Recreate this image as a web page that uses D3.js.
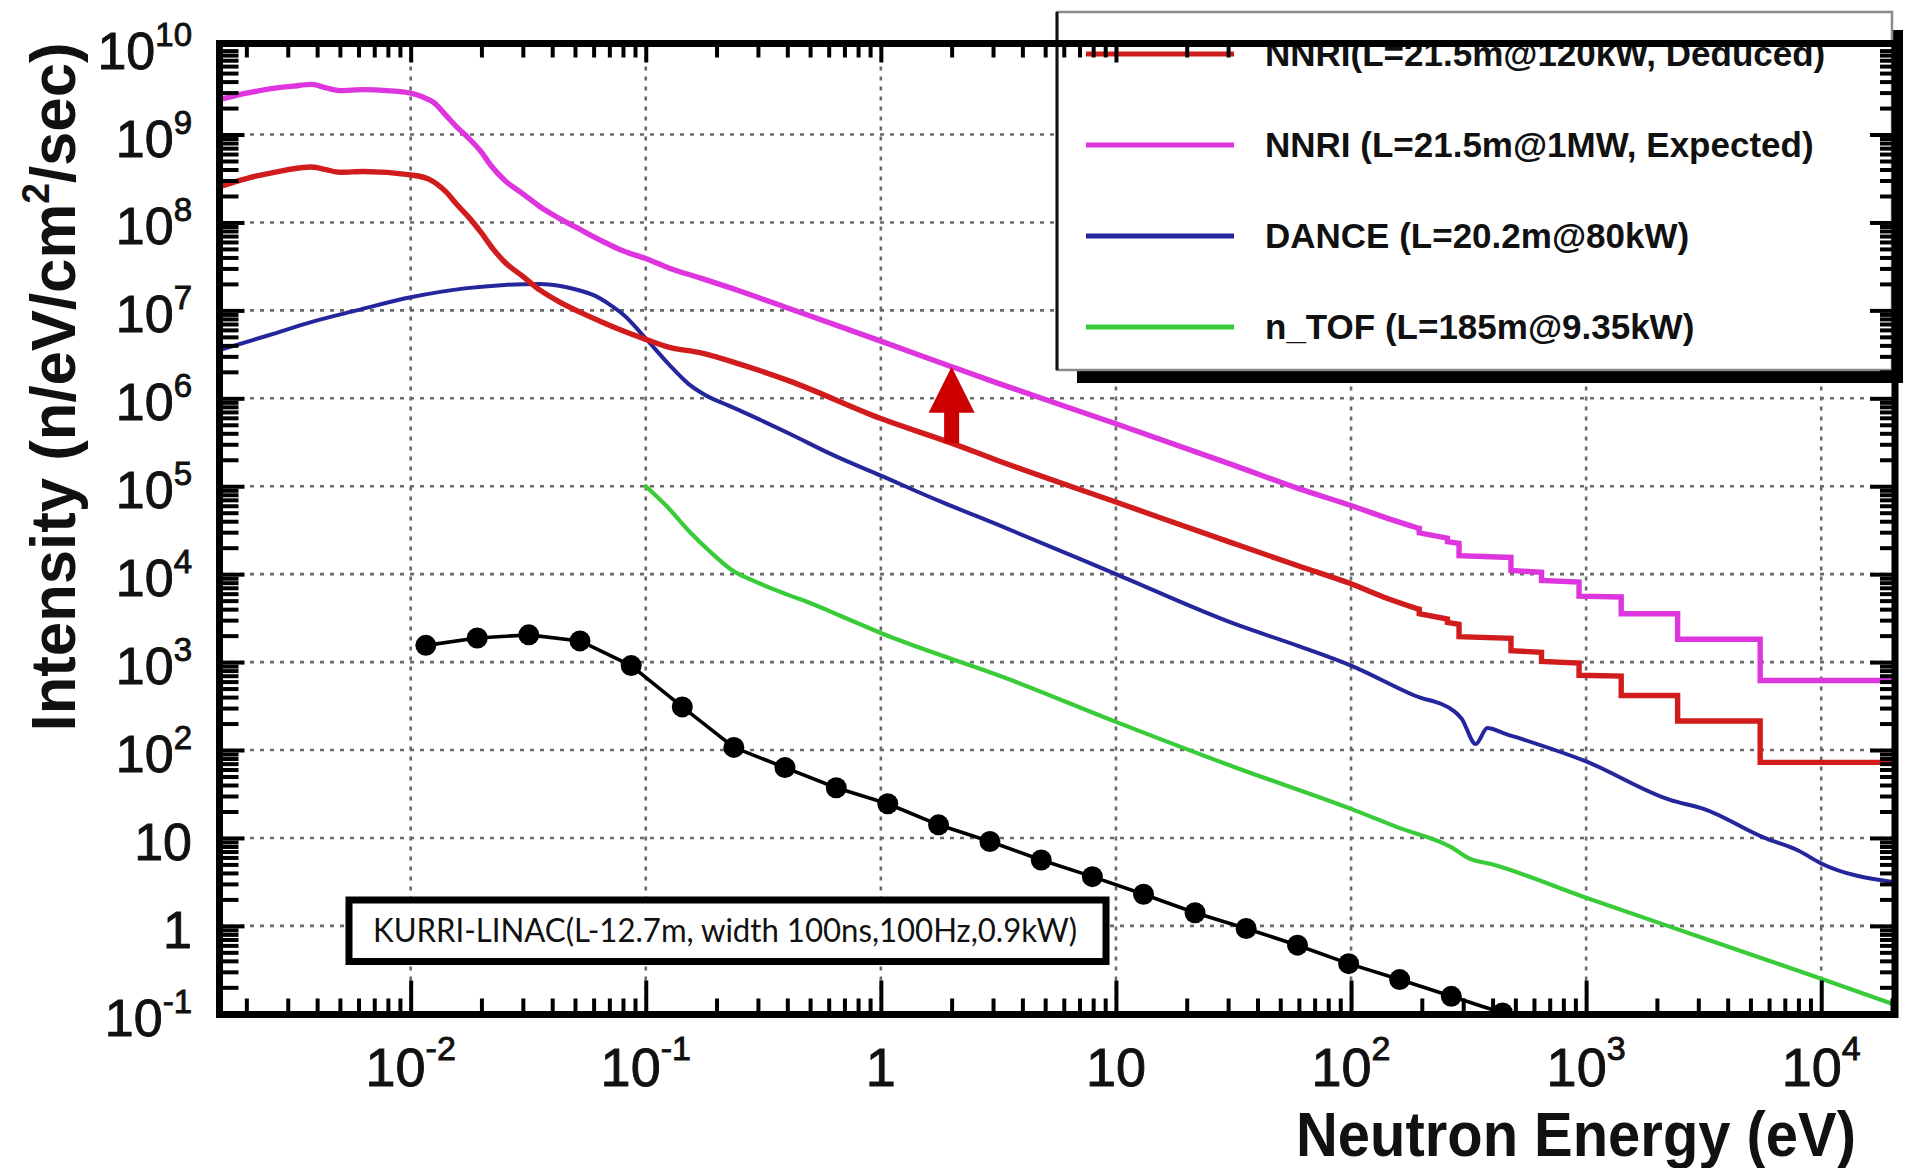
<!DOCTYPE html>
<html><head><meta charset="utf-8">
<script src="https://cdn.jsdelivr.net/npm/d3@7"></script>
<style>html,body{margin:0;padding:0;background:#fff;}svg{display:block}</style>
</head><body>
<svg id="chart" width="1908" height="1168"></svg>
<script>
// ---------------- DATA ----------------
const expectedE = [0.00155,0.0020,0.00251,0.00316,0.0038,0.00437,0.00501,0.00631,0.00794,0.0100,0.0112,0.0126,0.0141,0.0158,0.0170,0.0200,0.0219,0.0251,0.0302,0.0355,0.0427,0.0525,0.0661,0.0794,0.100,0.126,0.170,0.251,0.407,1.0,2.0,3.16,10,31.6,60.3,100,141,195,195,257,257,288,288,479,479,646,646,933,933,1410,1410,2450,2450,5500,5500,20200];
const expectedI = [2.51e9,2.95e9,3.31e9,3.55e9,3.72e9,3.39e9,3.16e9,3.24e9,3.16e9,2.95e9,2.69e9,2.29e9,1.66e9,1.20e9,1.0e9,6.31e8,4.47e8,3.02e8,2.09e8,1.51e8,1.12e8,8.32e7,6.03e7,4.79e7,3.89e7,3.02e7,2.34e7,1.66e7,1.05e7,4.47e6,2.29e6,1.48e6,5.13e5,1.74e5,9.33e4,6.03e4,4.37e4,3.31e4,2.95e4,2.57e4,2.34e4,2.24e4,1.62e4,1.55e4,1.10e4,1.05e4,8.51e3,8.13e3,5.62e3,5.50e3,3.55e3,3.55e3,1.82e3,1.82e3,617,617];

const deducedE = [0.00155,0.0020,0.00263,0.0038,0.00437,0.00501,0.00631,0.0100,0.0120,0.0141,0.0158,0.0178,0.0200,0.0224,0.0251,0.0302,0.0355,0.0427,0.0525,0.0661,0.0794,0.100,0.126,0.170,0.251,0.407,1.0,2.0,3.16,10,31.6,60.3,100,141,195,195,257,257,288,288,479,479,646,646,933,933,1410,1410,2450,2450,5500,5500,20200];
const deducedI = [2.57e8,3.16e8,3.72e8,4.27e8,3.98e8,3.72e8,3.80e8,3.47e8,3.09e8,2.24e8,1.58e8,1.12e8,7.59e7,5.01e7,3.55e7,2.40e7,1.70e7,1.26e7,9.55e6,7.24e6,5.89e6,4.68e6,3.80e6,3.31e6,2.45e6,1.58e6,5.89e5,3.09e5,1.95e5,6.61e4,2.24e4,1.23e4,7.76e3,5.37e3,3.98e3,3.55e3,3.09e3,2.82e3,2.69e3,1.95e3,1.86e3,1.35e3,1.29e3,1.02e3,977,708,692,417,417,214,214,72.4,72.4];

const danceE = [0.00155,0.00251,0.0038,0.00589,0.0100,0.0170,0.0251,0.0355,0.0427,0.0501,0.0603,0.0708,0.0813,0.100,0.126,0.151,0.178,0.224,0.282,0.407,0.631,1.0,1.78,3.16,10,31.6,60.3,100,186,275,295,339,380,447,1000,2290,3160,5750,7940,10000,20200];
const danceI = [3.55e6,5.25e6,7.41e6,1.0e7,1.41e7,1.78e7,1.95e7,2.0e7,1.91e7,1.74e7,1.48e7,1.15e7,8.71e6,4.79e6,2.40e6,1.48e6,1.10e6,8.32e5,6.31e5,3.98e5,2.24e5,1.32e5,6.76e4,3.63e4,1.0e4,2.75e3,1.51e3,912,417,275,229,117,178,155,74.1,26.9,21.4,10.0,7.24,5.13,3.16];

const ntofE = [0.100,0.122,0.154,0.187,0.234,0.296,0.398,0.513,0.668,1.0,3.63,10,31.6,100,158,269,316,398,1000,3160,10000,20200];
const ntofI = [1.0e5,6.03e4,3.02e4,1.82e4,1.10e4,8.13e3,5.89e3,4.57e3,3.39e3,2.14e3,617,209,64.6,21.4,13.2,7.76,5.89,5.01,2.09,0.724,0.251,0.129];

const kurriE = [0.0116,0.0192,0.0318,0.0525,0.0867,0.143,0.237,0.391,0.646,1.07,1.76,2.91,4.81,7.94,13.1,21.7,35.8,59.2,97.7,161,267,441];
const kurriI = [1550,1880,2040,1740,912,309,107,63.1,37.2,24.5,14.1,9.12,5.62,3.63,2.29,1.41,0.933,0.603,0.372,0.245,0.158,0.102];

const arrowE = 2.0, arrowFrom = 3.09e5, arrowTo = 2.29e6;

const xTickValues = [1e-2,1e-1,1,10,1e2,1e3,1e4];
const xTickExp    = ["-2","-1",null,null,"2","3","4"];
const xTickBase   = ["10","10","1","10","10","10","10"];
const yTickExps   = [-1,0,1,2,3,4,5,6,7,8,9,10];

const legendLabels = ["NNRI(L=21.5m@120kW, Deduced)","NNRI (L=21.5m@1MW, Expected)","DANCE (L=20.2m@80kW)","n_TOF (L=185m@9.35kW)"];
const legendColors = ["#d01c1c","#de36de","#26269c","#3acb3a"];
const boxText = "KURRI-LINAC(L-12.7m, width 100ns,100Hz,0.9kW)";
const xTitle = "Neutron Energy (eV)";

// ---------------- LAYOUT ----------------
const svg = d3.select("#chart");
const P = {left:220, right:1893, top:46.6, bottom:1013.8};
const F = {x0:219.5, y0:43.5, x1:1895, y1:1014.5};
const x = d3.scaleLog().domain([1.545e-3, 2.02e4]).range([P.left, P.right]);
const y = d3.scaleLog().domain([0.1, 1e10]).range([P.bottom, P.top]);
const sansFont = "'Liberation Sans', Arial, Helvetica, sans-serif";

svg.append("rect").attr("width",1908).attr("height",1168).attr("fill","#fff");

svg.append("defs").append("clipPath").attr("id","clip")
  .append("rect").attr("x",P.left).attr("y",P.top).attr("width",P.right-P.left).attr("height",P.bottom-P.top);

// grid
const grid = svg.append("g").attr("stroke","#6a6a6a").attr("stroke-width",2.6).attr("stroke-dasharray","4 6");
xTickValues.forEach(v=>{
  grid.append("line").attr("x1",x(v)).attr("x2",x(v)).attr("y1",P.top).attr("y2",P.bottom);
});
d3.range(0,10).forEach(k=>{
  grid.append("line").attr("y1",y(Math.pow(10,k))).attr("y2",y(Math.pow(10,k))).attr("x1",P.left).attr("x2",P.right);
});

// KURRI annotation box
svg.append("rect").attr("x",349).attr("y",900).attr("width",757).attr("height",61.5)
  .attr("fill","#fff").attr("stroke","#000").attr("stroke-width",7);
svg.append("text").attr("x",373).attr("y",942).attr("font-family","Lato, 'Open Sans', sans-serif")
  .attr("font-size",33).attr("textLength",704).attr("lengthAdjust","spacingAndGlyphs").attr("fill","#111").text(boxText);

// curves
const zip = (a,b)=>a.map((v,i)=>[v,b[i]]);
const smooth = d3.line().x(d=>x(d[0])).y(d=>y(d[1])).curve(d3.curveMonotoneX);
const straight = d3.line().x(d=>x(d[0])).y(d=>y(d[1]));
const curves = svg.append("g").attr("clip-path","url(#clip)").attr("fill","none")
  .attr("stroke-linejoin","round").attr("stroke-linecap","round");
function drawSeries(E, I, color, width){
  const pts = zip(E, I);
  let s = pts.length - 1;
  for(let i=0;i<pts.length-1;i++){ if(pts[i][0]===pts[i+1][0]){ s=i; break; } }
  curves.append("path").attr("d",smooth(pts.slice(0,s+1))).attr("stroke",color).attr("stroke-width",width);
  if(s < pts.length-1)
    curves.append("path").attr("d",straight(pts.slice(s))).attr("stroke",color).attr("stroke-width",width).attr("stroke-linejoin","miter").attr("stroke-linecap","square");
}
drawSeries(ntofE, ntofI, legendColors[3], 4.2);
drawSeries(danceE, danceI, legendColors[2], 4.0);
drawSeries(deducedE, deducedI, legendColors[0], 5.4);
drawSeries(expectedE, expectedI, legendColors[1], 5.4);
curves.append("path").attr("d",straight(zip(kurriE,kurriI))).attr("stroke","#000").attr("stroke-width",3.6);
curves.selectAll("circle").data(zip(kurriE,kurriI)).enter().append("circle")
  .attr("cx",d=>x(d[0])).attr("cy",d=>y(d[1])).attr("r",10.5).attr("fill","#000");

// arrow (from deduced curve up to expected curve)
{
  const ax = x(arrowE), yb = y(arrowFrom), yt = y(arrowTo);
  const headL = 46, headW = 23, shaftW = 7.5;
  const p = d3.path();
  p.moveTo(ax, yt); p.lineTo(ax+headW, yt+headL); p.lineTo(ax+shaftW, yt+headL);
  p.lineTo(ax+shaftW, yb); p.lineTo(ax-shaftW, yb); p.lineTo(ax-shaftW, yt+headL);
  p.lineTo(ax-headW, yt+headL); p.closePath();
  svg.append("path").attr("d",p.toString()).attr("fill","#cc0000");
}

// legend
const lg = svg.append("g");
lg.append("rect").attr("x",1077).attr("y",370).attr("width",826).attr("height",13).attr("fill","#000");
lg.append("rect").attr("x",1892).attr("y",30).attr("width",11).attr("height",353).attr("fill","#000");
lg.append("rect").attr("x",1057).attr("y",12).attr("width",835).attr("height",358).attr("fill","#fff")
  .attr("stroke","#8a8a8a").attr("stroke-width",2.5);
lg.append("line").attr("x1",1057).attr("x2",1057).attr("y1",12).attr("y2",370).attr("stroke","#111").attr("stroke-width",3);
const rowsY = [54,145,236,327];
legendLabels.forEach((t,i)=>{
  lg.append("line").attr("x1",1086).attr("x2",1234).attr("y1",rowsY[i]).attr("y2",rowsY[i])
    .attr("stroke",legendColors[i]).attr("stroke-width",5);
  lg.append("text").attr("x",1265).attr("y",rowsY[i]+12).attr("font-family",sansFont).attr("font-weight","bold")
    .attr("font-size",35).attr("fill","#111").text(t);
});

// frame
svg.append("rect").attr("x",F.x0).attr("y",F.y0).attr("width",F.x1-F.x0).attr("height",F.y1-F.y0)
  .attr("fill","none").attr("stroke","#000").attr("stroke-width",7);

// ticks
const majorX = xTickValues;
const minorX = [];
for(let k=-3;k<=4;k++) for(let m=2;m<=9;m++){const v=m*Math.pow(10,k); if(v>x.domain()[0]&&v<x.domain()[1]) minorX.push(v);}
const majorY = d3.range(0,10).map(k=>Math.pow(10,k));
const minorY = [];
for(let k=-1;k<=9;k++) for(let m=2;m<=9;m++) minorY.push(m*Math.pow(10,k));

function styleAxis(g){ g.select(".domain").remove(); g.selectAll("line").attr("stroke","#000").attr("stroke-width",4); }
svg.append("g").attr("transform",`translate(0,${F.y1})`).call(d3.axisBottom(x).tickValues(majorX).tickSize(-34).tickFormat("")).call(styleAxis);
svg.append("g").attr("transform",`translate(0,${F.y1})`).call(d3.axisBottom(x).tickValues(minorX).tickSize(-16).tickFormat("")).call(styleAxis);
const topMajor = majorX.filter(v=>x(v)<1250), topMinor = minorX.filter(v=>x(v)<1250);
svg.append("g").attr("transform",`translate(0,${F.y0})`).call(d3.axisTop(x).tickValues(topMajor).tickSize(-19).tickFormat("")).call(styleAxis);
svg.append("g").attr("transform",`translate(0,${F.y0})`).call(d3.axisTop(x).tickValues(topMinor).tickSize(-14).tickFormat("")).call(styleAxis);
svg.append("g").attr("transform",`translate(${F.x0},0)`).call(d3.axisLeft(y).tickValues(majorY).tickSize(-25).tickFormat("")).call(styleAxis);
svg.append("g").attr("transform",`translate(${F.x0},0)`).call(d3.axisLeft(y).tickValues(minorY).tickSize(-19).tickFormat("")).call(styleAxis);
svg.append("g").attr("transform",`translate(${F.x1},0)`).call(d3.axisRight(y).tickValues(majorY).tickSize(-25).tickFormat("")).call(styleAxis);
svg.append("g").attr("transform",`translate(${F.x1},0)`).call(d3.axisRight(y).tickValues(minorY).tickSize(-15).tickFormat("")).call(styleAxis);

// y tick labels
const yl = svg.append("g").attr("font-family",sansFont).attr("fill","#111").attr("stroke","#111").attr("stroke-width",0.9);
yTickExps.forEach(k=>{
  const t = yl.append("text").attr("x",192).attr("y",y(Math.pow(10,k))+22).attr("text-anchor","end").attr("font-size",52);
  if(k===0){ t.text("1"); }
  else if(k===1){ t.text("10"); }
  else { t.append("tspan").text("10"); t.append("tspan").attr("font-size",33).attr("dy",-23).text(String(k)); }
});

// x tick labels
const xl = svg.append("g").attr("font-family",sansFont).attr("fill","#111").attr("stroke","#111").attr("stroke-width",0.9);
xTickValues.forEach((v,i)=>{
  const t = xl.append("text").attr("x",x(v)).attr("y",1086).attr("text-anchor","middle").attr("font-size",54);
  t.append("tspan").text(xTickBase[i]);
  if(xTickExp[i]) t.append("tspan").attr("font-size",34).attr("dy",-26).text(xTickExp[i]);
});

// axis titles
svg.append("text").attr("x",1856).attr("y",1156).attr("text-anchor","end").attr("font-family",sansFont)
  .attr("font-weight","bold").attr("font-size",63).attr("textLength",560).attr("lengthAdjust","spacingAndGlyphs")
  .attr("fill","#111").text(xTitle);
const yt = svg.append("text").attr("transform","translate(75,387) rotate(-90)").attr("text-anchor","middle")
  .attr("font-family",sansFont).attr("font-weight","bold").attr("font-size",63)
  .attr("textLength",689).attr("lengthAdjust","spacingAndGlyphs").attr("fill","#111");
yt.append("tspan").text("Intensity (n/eV/cm");
yt.append("tspan").attr("font-size",38).attr("dy",-26).text("2");
yt.append("tspan").attr("dy",26).text("/sec)");
</script>
</body></html>
